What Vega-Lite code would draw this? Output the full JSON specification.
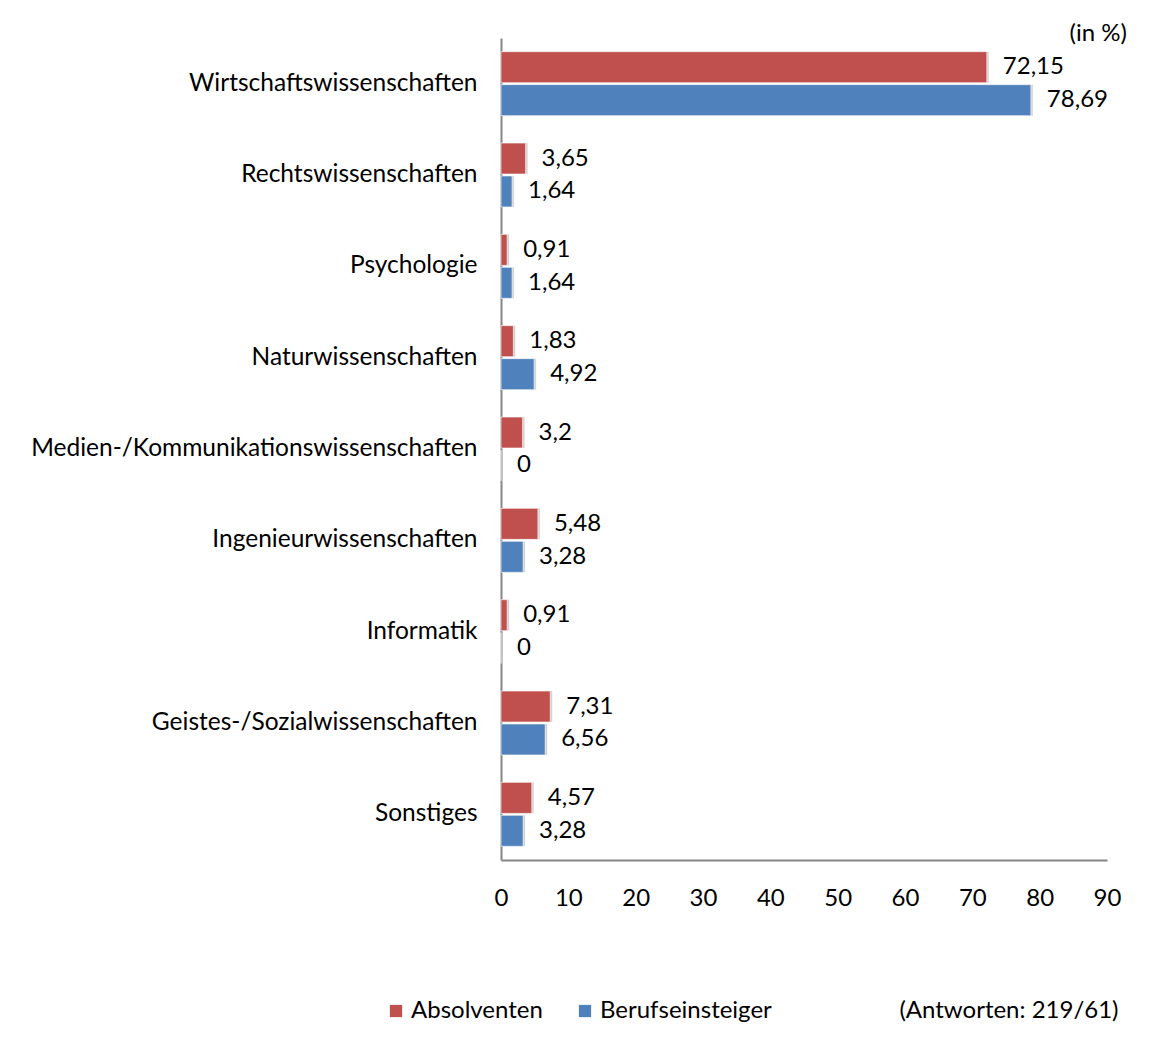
{
  "$schema": "https://vega.github.io/schema/vega-lite/v6.json",
  "width": 606,
  "height": 822,
  "autosize": {"type": "none"},
  "padding": {"left": 501, "top": 38, "right": 44, "bottom": 184},
  "background": "white",
  "config": {
    "locale": {
      "number": {"decimal": ",", "thousands": ".", "grouping": [3], "currency": ["", " €"]}
    },
    "font": "Lato",
    "view": {"stroke": null}
  },
  "title": {
    "text": "(in %)",
    "anchor": "end",
    "dx": 6,
    "offset": -32,
    "baseline": "bottom",
    "fontSize": 24,
    "fontWeight": "normal",
    "color": "black"
  },
  "data": {
    "values": [
      {"cat": "Wirtschaftswissenschaften", "series": "Absolventen", "value": 72.15},
      {"cat": "Wirtschaftswissenschaften", "series": "Berufseinsteiger", "value": 78.69},
      {"cat": "Rechtswissenschaften", "series": "Absolventen", "value": 3.65},
      {"cat": "Rechtswissenschaften", "series": "Berufseinsteiger", "value": 1.64},
      {"cat": "Psychologie", "series": "Absolventen", "value": 0.91},
      {"cat": "Psychologie", "series": "Berufseinsteiger", "value": 1.64},
      {"cat": "Naturwissenschaften", "series": "Absolventen", "value": 1.83},
      {"cat": "Naturwissenschaften", "series": "Berufseinsteiger", "value": 4.92},
      {"cat": "Medien-/Kommunikationswissenschaften", "series": "Absolventen", "value": 3.2},
      {"cat": "Medien-/Kommunikationswissenschaften", "series": "Berufseinsteiger", "value": 0},
      {"cat": "Ingenieurwissenschaften", "series": "Absolventen", "value": 5.48},
      {"cat": "Ingenieurwissenschaften", "series": "Berufseinsteiger", "value": 3.28},
      {"cat": "Informatik", "series": "Absolventen", "value": 0.91},
      {"cat": "Informatik", "series": "Berufseinsteiger", "value": 0},
      {"cat": "Geistes-/Sozialwissenschaften", "series": "Absolventen", "value": 7.31},
      {"cat": "Geistes-/Sozialwissenschaften", "series": "Berufseinsteiger", "value": 6.56},
      {"cat": "Sonstiges", "series": "Absolventen", "value": 4.57},
      {"cat": "Sonstiges", "series": "Berufseinsteiger", "value": 3.28}
    ]
  },
  "encoding": {
    "y": {
      "field": "cat",
      "type": "nominal",
      "sort": null,
      "scale": {"paddingInner": 0.3, "paddingOuter": 0.15},
      "axis": {
        "title": null,
        "ticks": false,
        "labelPadding": 24,
        "labelFontSize": 24.5,
        "labelColor": "black",
        "labelLimit": 520,
        "domainColor": "#868686",
        "domainWidth": 2
      }
    },
    "yOffset": {"field": "series", "type": "nominal", "scale": {"paddingInner": 0.06}},
    "x": {
      "field": "value",
      "type": "quantitative",
      "scale": {"domain": [0, 90], "nice": false},
      "axis": {
        "values": [0, 10, 20, 30, 40, 50, 60, 70, 80, 90],
        "grid": false,
        "ticks": false,
        "labelPadding": 26,
        "labelFontSize": 24,
        "labelColor": "black",
        "labelFlush": false,
        "domainColor": "#868686",
        "domainWidth": 2,
        "title": "(Antworten: 219/61)",
        "titleX": 617,
        "titleY": 150,
        "titleAlign": "right",
        "titleBaseline": "middle",
        "titleFontSize": 24,
        "titleFontWeight": "normal",
        "titleColor": "black"
      }
    }
  },
  "layer": [
    {
      "mark": {"type": "bar", "color": "#808080", "opacity": 0.35, "xOffset": 2, "yOffset": 3}
    },
    {
      "mark": {"type": "bar", "stroke": "white", "strokeOpacity": 0.6, "strokeWidth": 1},
      "encoding": {
        "color": {
          "field": "series",
          "type": "nominal",
          "scale": {"domain": ["Absolventen", "Berufseinsteiger"], "range": ["#C0504D", "#4F81BD"]},
          "legend": {
            "orient": "none",
            "legendX": -117,
            "legendY": 961,
            "direction": "horizontal",
            "title": null,
            "symbolType": "square",
            "symbolSize": 150,
            "symbolStrokeWidth": 0,
            "labelFontSize": 24,
            "labelColor": "black",
            "labelLimit": 400,
            "labelOffset": 3,
            "columnPadding": 30
          }
        }
      }
    },
    {
      "mark": {"type": "text", "align": "left", "baseline": "middle", "dx": 16, "fontSize": 24, "color": "black"},
      "encoding": {
        "text": {"field": "value", "type": "quantitative", "format": ".2~f"}
      }
    }
  ]
}
